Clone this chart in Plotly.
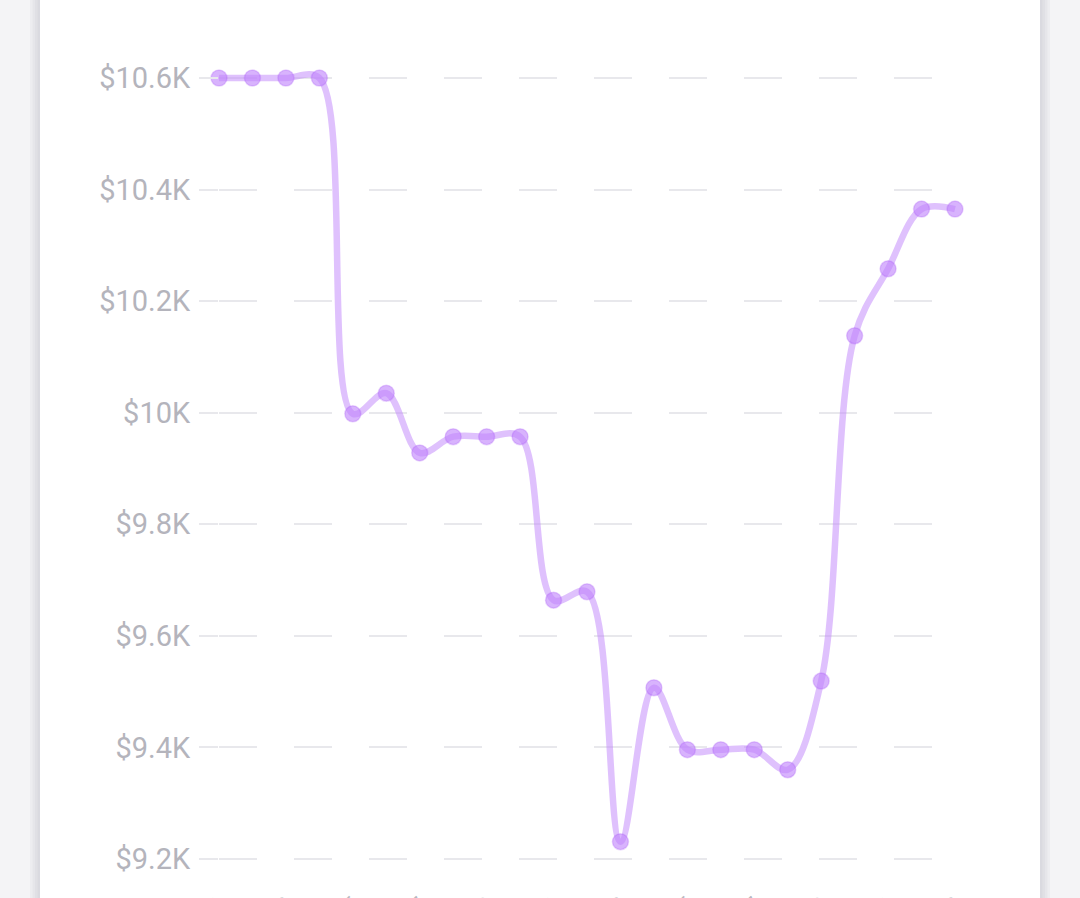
import plotly.graph_objects as go

W, H = 1080, 898

dates = ["Jan 01", "Jan 02", "Jan 03", "Jan 04", "Jan 05", "Jan 06", "Jan 07", "Jan 08",
         "Jan 09", "Jan 10", "Jan 11", "Jan 12", "Jan 13", "Jan 14", "Jan 15", "Jan 16",
         "Jan 17", "Jan 18", "Jan 19", "Jan 20", "Jan 21", "Jan 22", "Jan 23"]
values = [10600, 10600, 10600, 10600, 9998, 10035, 9928, 9957, 9957, 9957, 9664, 9679,
          9231, 9507, 9396, 9396, 9396, 9360, 9519, 10138, 10258, 10365, 10365]
y_ticks = [9200, 9400, 9600, 9800, 10000, 10200, 10400, 10600]
y_tick_text = ["$9.2K", "$9.4K", "$9.6K", "$9.8K", "$10K", "$10.2K", "$10.4K", "$10.6K"]

x_idx = list(range(len(dates)))

fig = go.Figure()
fig.add_trace(go.Scatter(
    x=x_idx, y=values, mode="lines+markers",
    line=dict(shape="spline", smoothing=1.0, color="rgba(192,132,252,0.5)", width=6.5),
    marker=dict(size=16, color="rgba(192,132,252,0.62)",
                line=dict(color="rgba(168,85,247,0.25)", width=1.5)),
    cliponaxis=False, hoverinfo="skip",
))

# card + shadow
shapes = []
for i, op in enumerate([0.05, 0.05, 0.05, 0.05]):
    d = (i + 1) * 2.5
    shapes.append(dict(type="rect", xref="paper", yref="paper", layer="below",
                       x0=(40 - d) / W, x1=(1040 + d) / W, y0=-0.1, y1=1.1,
                       fillcolor=f"rgba(120,120,140,{op})", line=dict(width=0)))
shapes.append(dict(type="rect", xref="paper", yref="paper", layer="below",
                   x0=40 / W, x1=1040 / W, y0=-0.1, y1=1.1,
                   fillcolor="white", line=dict(width=0)))

x_left, x_right = 219, 963
y_top, y_bot = 40, 878
px_per_idx = (955 - 219) / 22
x0v = (x_left - 219) / px_per_idx
x1v = (x_right - 219) / px_per_idx
px_per_val = (859 - 78) / 1400
ybot_v = 9200 - (y_bot - 859) / px_per_val
ytop_v = 10600 + (78 - y_top) / px_per_val

fig.update_layout(
    width=W, height=H,
    margin=dict(l=0, r=0, t=0, b=0),
    paper_bgcolor="#f4f4f6", plot_bgcolor="rgba(0,0,0,0)",
    showlegend=False,
    shapes=shapes,
    font=dict(family="Roboto", color="#b8b8c0"),
    xaxis=dict(domain=[x_left / W, x_right / W], range=[x0v, x1v],
               tickmode="array", tickvals=x_idx[::2], ticktext=dates[::2],
               tickangle=-45, showgrid=False, zeroline=False, showline=False,
               ticks="outside", ticklen=5, tickcolor="rgba(0,0,0,0)",
               tickfont=dict(size=20, color="#b8b8c0"), automargin=False),
    yaxis=dict(domain=[(H - y_bot) / H, (H - y_top) / H], range=[ybot_v, ytop_v],
               tickmode="array", tickvals=y_ticks, ticktext=y_tick_text,
               showgrid=True, gridcolor="#e8e8ec", gridwidth=2, griddash="37.5px,37.5px",
               zeroline=False, showline=False,
               ticks="outside", ticklen=19, tickwidth=2, tickcolor="#e8e8ec",
               ticklabelstandoff=3,
               tickfont=dict(size=29, color="#b4b4bc"), automargin=False),
)

fig.write_html("out.html")
